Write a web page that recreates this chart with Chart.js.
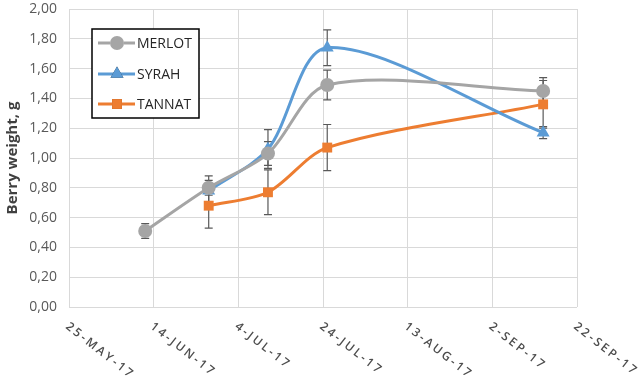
<!DOCTYPE html>
<html>
<head>
<meta charset="utf-8">
<script src="https://cdn.jsdelivr.net/npm/chart.js@4.4.1/dist/chart.umd.min.js"></script>
<style>
  html, body { margin: 0; background: #fff; }
  #wrap { width: 644px; height: 387px; position: relative; }
</style>
</head>
<body>
<div id="wrap"><canvas id="chart"></canvas></div>
<script>
// ---- data ----
const sampleDates = ['2017-06-12', '2017-06-27', '2017-07-11', '2017-07-25', '2017-09-14'];
const merlot    = [0.51, 0.80, 1.03, 1.49, 1.45];
const merlotErr = [0.05, 0.05, 0.08, 0.10, 0.09];
const syrah     = [null, 0.78, 1.06, 1.74, 1.17];
const syrahErr  = [null, 0.10, 0.13, 0.12, 0.04];
const tannat    = [null, 0.68, 0.77, 1.07, 1.36];
const tannatErr = [null, 0.15, 0.15, 0.155, 0.16];
const xTickLabels = ['25-MAY-17', '14-JUN-17', '4-JUL-17', '24-JUL-17', '13-AUG-17', '2-SEP-17', '22-SEP-17'];
const xStart = '2017-05-25';
const xStepDays = 20;

const dayNum = (s) => Date.UTC(+s.slice(0, 4), +s.slice(5, 7) - 1, +s.slice(8, 10)) / 864e5;
const x0 = dayNum(xStart);
const xEnd = x0 + xStepDays * (xTickLabels.length - 1);

const toPoints = (vals, errs) => vals.map((v, i) => v == null ? null : { x: dayNum(sampleDates[i]), y: v, err: errs[i] }).filter(Boolean);

const FONT = '"Open Sans", "Liberation Sans", sans-serif';

// error bars drawn from the y scale
const errorBars = {
  id: 'errorBars',
  beforeDatasetsDraw(chart) {
    const { ctx, scales: { y } } = chart;
    ctx.save();
    ctx.strokeStyle = '#595959';
    ctx.lineWidth = 1.2;
    chart.data.datasets.forEach((ds, di) => {
      const meta = chart.getDatasetMeta(di);
      meta.data.forEach((pt, i) => {
        const d = ds.data[i];
        const top = y.getPixelForValue(d.y + d.err);
        const bot = y.getPixelForValue(d.y - d.err);
        ctx.beginPath();
        ctx.moveTo(pt.x, top); ctx.lineTo(pt.x, bot);
        ctx.moveTo(pt.x - 4, top); ctx.lineTo(pt.x + 4, top);
        ctx.moveTo(pt.x - 4, bot); ctx.lineTo(pt.x + 4, bot);
        ctx.stroke();
      });
    });
    ctx.restore();
  }
};

// slanted date labels (start at the tick, run down to the right)
const xLabels = {
  id: 'xLabels',
  afterDraw(chart) {
    const { ctx, scales: { x }, chartArea } = chart;
    ctx.save();
    ctx.fillStyle = '#4d4d4d';
    ctx.font = '600 12px ' + FONT;
    ctx.letterSpacing = '2.5px';
    ctx.textBaseline = 'middle';
    ctx.textAlign = 'left';
    xTickLabels.forEach((lab, i) => {
      const px = x.getPixelForValue(x0 + i * xStepDays);
      ctx.save();
      ctx.translate(px - 2, chartArea.bottom + 18);
      ctx.rotate(38 * Math.PI / 180);
      ctx.fillText(lab, 0, 0);
      ctx.restore();
    });
    ctx.restore();
  }
};

// boxed legend inside the plot
const boxLegend = {
  id: 'boxLegend',
  afterDraw(chart) {
    const { ctx } = chart;
    ctx.save();
    ctx.fillStyle = '#fff';
    ctx.fillRect(92, 29, 107, 89);
    ctx.strokeStyle = '#000';
    ctx.lineWidth = 1.5;
    ctx.strokeRect(92, 29, 107, 89);
    const rows = [43, 74, 104];
    chart.data.datasets.forEach((ds, i) => {
      const yy = rows[i];
      ctx.strokeStyle = ds.borderColor;
      ctx.lineWidth = 3;
      ctx.beginPath(); ctx.moveTo(98, yy); ctx.lineTo(135, yy); ctx.stroke();
      Chart.helpers.drawPoint(ctx, { pointStyle: ds.pointStyle, radius: ds.pointRadius, borderWidth: 0, rotation: 0 }, 117, yy);
      ctx.fillStyle = ds.backgroundColor;
      ctx.fill();
      ctx.fillStyle = '#262626';
      ctx.font = '14px ' + FONT;
      ctx.textBaseline = 'middle';
      ctx.fillText(ds.label, 137, yy + 1);
    });
    ctx.restore();
  }
};

const series = (label, color, style, radius, vals, errs) => ({
  label, data: toPoints(vals, errs),
  borderColor: color, backgroundColor: color,
  borderWidth: 3, tension: 0.3,
  pointStyle: style, pointRadius: radius, pointHoverRadius: radius,
  pointBorderWidth: 0
});

new Chart(document.getElementById('chart'), {
  type: 'line',
  data: {
    datasets: [
      series('MERLOT', '#a5a5a5', 'circle', 7, merlot, merlotErr),
      series('SYRAH', '#5b9bd5', 'triangle', 7.5, syrah, syrahErr),
      series('TANNAT', '#ed7d31', 'rect', 7, tannat, tannatErr)
    ]
  },
  options: {
    responsive: true,
    maintainAspectRatio: false,
    animation: false,
    layout: { padding: { left: 0, top: 9, right: 67, bottom: 80 } },
    plugins: { legend: { display: false }, tooltip: { enabled: false } },
    scales: {
      x: {
        type: 'linear', min: x0, max: xEnd,
        ticks: { display: false, stepSize: xStepDays },
        grid: { color: '#d9d9d9', lineWidth: 1, drawTicks: false },
        border: { display: false }
      },
      y: {
        min: 0, max: 2,
        ticks: {
          stepSize: 0.2, color: '#595959', padding: 12,
          font: { family: FONT, size: 14 },
          callback: (v) => v.toFixed(2).replace('.', ',')
        },
        grid: { color: '#d9d9d9', lineWidth: 1, drawTicks: false },
        border: { display: false },
        title: { display: true, text: 'Berry weight, g', color: '#404040', font: { family: FONT, size: 15, weight: 'bold' }, padding: { top: 4, bottom: 0 } },
        afterFit: (s) => { s.width = 69; s.paddingTop = 0; s.paddingBottom = 0; }
      }
    }
  },
  plugins: [errorBars, xLabels, boxLegend]
});
</script>
</body>
</html>
